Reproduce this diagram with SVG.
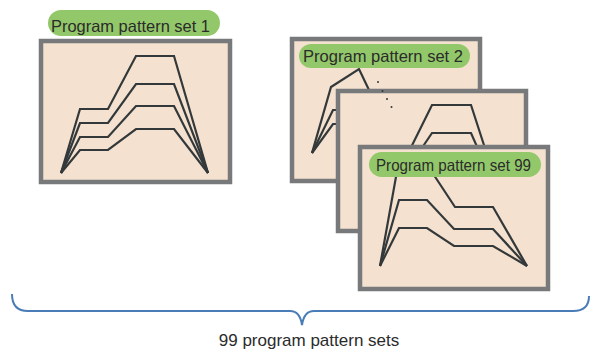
<svg xmlns="http://www.w3.org/2000/svg" width="590" height="350" viewBox="0 0 590 350">
  <style>
    .box { fill: #f4e1cf; stroke: #78797b; stroke-width: 4.5; }
    .pill { fill: #93c86a; }
    .lbl { font-family: "Liberation Sans", Arial, sans-serif; font-size: 16.5px; fill: #2b2b2b; }
    .ln { fill: none; stroke: #33393a; stroke-width: 2.2; stroke-linejoin: miter; }
    .dot { fill: #33393a; }
    .brace { fill: none; stroke: #4a7db8; stroke-width: 2; }
    .cap { font-family: "Liberation Sans", Arial, sans-serif; font-size: 17px; fill: #2b2b2b; }
  </style>
  <rect width="590" height="350" fill="#ffffff"/>

  <g id="set1">
    <rect class="box" x="41" y="41" width="189" height="141"/>
    <polyline class="ln" points="61,173 80,109 108,109 136,56 174,56 208,173"/>
    <polyline class="ln" points="61,173 80,123 108,123 136,84 174,84 208,173"/>
    <polyline class="ln" points="61,173 80,137 108,137 136,106 174,106 208,173"/>
    <polyline class="ln" points="61,173 80,150 108,150 136,129 174,129 208,173"/>
    <rect class="pill" x="48" y="10" width="172" height="26" rx="13"/>
    <text class="lbl" x="51" y="32" textLength="159" lengthAdjust="spacingAndGlyphs">Program pattern set 1</text>
  </g>

  <g id="set2">
    <rect class="box" x="292" y="39" width="188" height="142"/>
    <polyline class="ln" points="312,153 331,87 359,69 369,90 400,150"/>
    <polyline class="ln" points="312,153 333,110 360,110"/>
    <polyline class="ln" points="312,153 333,124 360,124"/>
    <rect class="pill" x="299" y="44" width="171" height="24" rx="12"/>
    <text class="lbl" x="303" y="62" textLength="160" lengthAdjust="spacingAndGlyphs">Program pattern set 2</text>
  </g>

  <g id="set3">
    <rect class="box" x="338" y="91" width="188" height="140"/>
    <polyline class="ln" points="380,210 432,105 471,105 505,210"/>
    <polyline class="ln" points="380,210 432,133 471,133 505,210"/>
  </g>

  <g id="ellipsis">
    <circle class="dot" cx="378" cy="82" r="1"/>
    <circle class="dot" cx="382.5" cy="91" r="1"/>
    <circle class="dot" cx="387" cy="99" r="1"/>
    <circle class="dot" cx="391.5" cy="107" r="1"/>
  </g>

  <g id="set99">
    <rect class="box" x="360" y="147" width="188" height="142"/>
    <polyline class="ln" points="380,266 399,160 424,160 455,207 493,207 527,266"/>
    <polyline class="ln" points="380,266 399,200 427,200 454,229 493,229 527,266"/>
    <polyline class="ln" points="380,266 399,228 427,228 454,246 493,246 527,266"/>
    <rect class="pill" x="369" y="152" width="172" height="25" rx="12.5"/>
    <text class="lbl" x="376" y="171" textLength="155" lengthAdjust="spacingAndGlyphs">Program pattern set 99</text>
  </g>

  <g id="connectors">
    <path class="brace" d="M12,294 Q12,311 28,311 L290,311 Q300,311 302,325 Q304,311 314,311 L573,311 Q589,311 589,296"/>
  </g>

  <g id="caption">
    <text class="cap" x="309" y="345.5" text-anchor="middle">99 program pattern sets</text>
  </g>
</svg>
